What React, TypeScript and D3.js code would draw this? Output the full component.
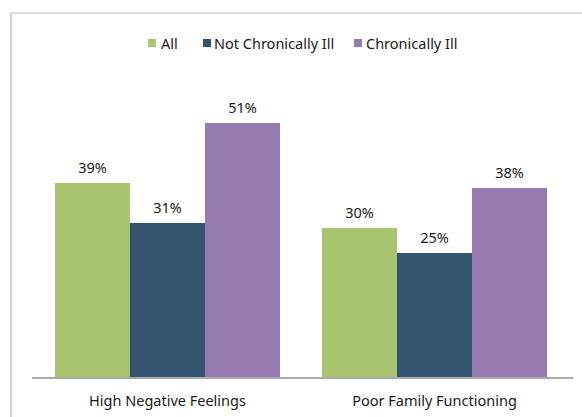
import React from "react";
import * as d3 from "d3";

const categories = ["High Negative Feelings", "Poor Family Functioning"];
const seriesNames = ["All", "Not Chronically Ill", "Chronically Ill"];
const allValues = [39, 30];
const notIllValues = [31, 25];
const illValues = [51, 38];
const colors = ["#A9C46E", "#33556F", "#957BB0"];

export default function App() {
  const W = 582, H = 417;
  const baseY = 378;
  const y = d3.scaleLinear().domain([0, 51]).range([baseY, 123]);
  const barW = 75;
  const groupStart = (i: number) => 55 + i * 267;
  const sx = (i: number, s: number) => groupStart(i) + s * barW;
  const series = [allValues, notIllValues, illValues];
  const font = "'Noto Sans', 'Open Sans', sans-serif";
  const fs = 14.5;
  const legendItems = [
    { name: seriesNames[0], sq: 148, tx: 161 },
    { name: seriesNames[1], sq: 203, tx: 214 },
    { name: seriesNames[2], sq: 354, tx: 366 },
  ];
  return (
    <svg width={W} height={H} style={{ position: "absolute", left: 0, top: 0, background: "#fff" }}>
      <line x1={11} x2={11} y1={13} y2={H} stroke="#d0d0d0" strokeWidth={2} />
      <line x1={11} x2={W} y1={13} y2={13} stroke="#d0d0d0" strokeWidth={1.5} />
      {legendItems.map((l, i) => (
        <g key={l.name}>
          <rect x={l.sq} y={39} width={8} height={8} fill={colors[i]} />
          <text x={l.tx} y={49} fontFamily={font} fontSize={fs} fill="#1a1a1a">{l.name}</text>
        </g>
      ))}
      {series.map((vals, s) =>
        vals.map((v, i) => (
          <g key={`${s}-${i}`}>
            <rect x={sx(i, s)} y={y(v)} width={barW} height={baseY - y(v)} fill={colors[s]} />
            <text x={sx(i, s) + barW / 2} y={y(v) - 10} textAnchor="middle" fontFamily={font} fontSize={fs} fill="#1a1a1a">{v}%</text>
          </g>
        ))
      )}
      <line x1={32} x2={573} y1={baseY} y2={baseY} stroke="#aaa" strokeWidth={2} />
      {categories.map((c, i) => (
        <text key={c} x={groupStart(i) + barW * 1.5} y={406} textAnchor="middle" fontFamily={font} fontSize={fs} fill="#1a1a1a">{c}</text>
      ))}
    </svg>
  );
}
